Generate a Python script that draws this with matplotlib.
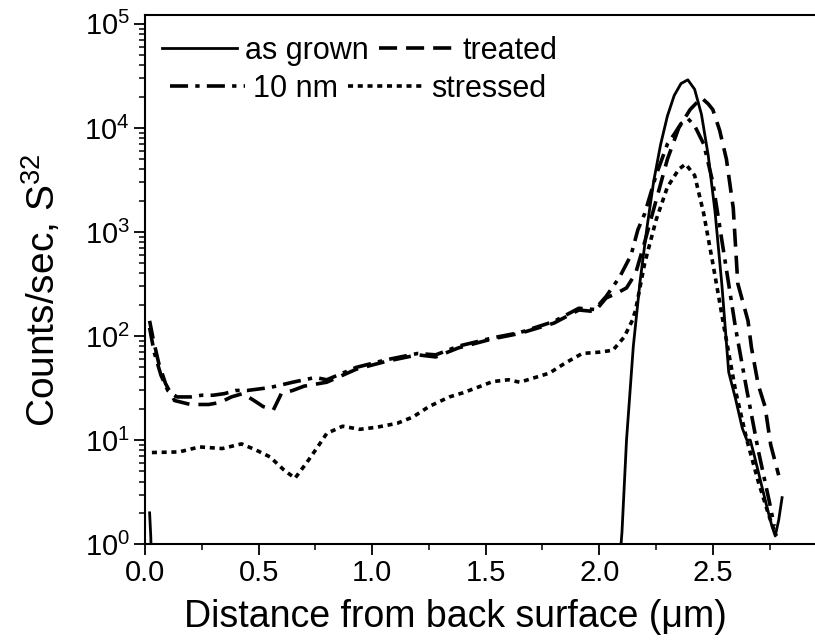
import numpy as np
import matplotlib
matplotlib.use("Agg")
import matplotlib.pyplot as plt
from matplotlib.ticker import LogLocator, MultipleLocator, NullFormatter, FormatStrFormatter
from matplotlib.lines import Line2D

plt.rcParams['font.family'] = ['Liberation Sans', 'DejaVu Sans']
plt.rcParams['mathtext.fontset'] = 'custom'
plt.rcParams['mathtext.rm'] = 'Liberation Sans'
plt.rcParams['mathtext.it'] = 'Liberation Sans:italic'

# as grown (solid): a tiny spike at the surface and the main peak
grown_x0 = [0.020, 0.025, 0.030]
grown_y0 = [2.0, 1.2, 0.5]
grown_x = [2.085, 2.10, 2.12, 2.15, 2.18, 2.21, 2.24, 2.27, 2.30, 2.33, 2.36, 2.39,
           2.42, 2.45, 2.48, 2.51, 2.54, 2.57, 2.60, 2.63, 2.65, 2.665, 2.68, 2.70,
           2.72, 2.74, 2.76, 2.775, 2.79, 2.805]
grown_y = [0.5, 1.3, 10, 80, 340, 1100, 3100, 6900, 13000, 20500, 26700, 29000,
           23500, 13500, 5400, 1550, 310, 45, 25, 13, 10, 10, 7.5, 5.0,
           3.3, 2.2, 1.5, 1.2, 1.7, 2.8]

# treated (dashed)
treat_x = [0.02, 0.035, 0.06, 0.09, 0.13, 0.20, 0.28, 0.33, 0.38, 0.43, 0.48, 0.52, 0.565,
           0.60, 0.65, 0.70, 0.80, 0.93, 1.06, 1.20, 1.28, 1.38, 1.53, 1.65, 1.80, 1.91,
           1.98, 2.03, 2.08, 2.12, 2.16, 2.20, 2.25, 2.30, 2.35, 2.40, 2.45, 2.48, 2.50,
           2.53, 2.56, 2.59, 2.61, 2.655, 2.67, 2.70, 2.73, 2.755, 2.79]
treat_y = [140, 95, 55, 35, 24, 22, 22, 23, 26, 28, 24, 21, 19.5,
           28, 30, 33, 36, 48, 57, 66, 63, 77, 94, 106, 133, 178,
           172, 232, 260, 290, 400, 800, 2000, 5000, 10000, 15000, 19500, 17000, 15000,
           9500, 5000, 1700, 320, 140, 78, 34, 21, 9, 4.6]

# 10 nm (dash-dot)
nm10_x = [0.02, 0.04, 0.07, 0.10, 0.14, 0.20, 0.25, 0.30, 0.35, 0.40, 0.45, 0.55, 0.65,
          0.75, 0.80, 0.93, 1.06, 1.20, 1.28, 1.38, 1.53, 1.65, 1.80, 1.91, 1.98, 2.03,
          2.09, 2.14, 2.17, 2.20, 2.25, 2.30, 2.33, 2.36, 2.39, 2.42, 2.46, 2.50, 2.55,
          2.60, 2.65, 2.70, 2.75, 2.77]
nm10_y = [120, 70, 42, 30, 26, 26, 27, 27, 28, 30, 30, 32, 36,
          40, 38, 50, 59, 68, 66, 80, 96, 108, 138, 185, 180, 240,
          370, 600, 1050, 1500, 3500, 7000, 8700, 11000, 12300, 10500, 7000, 3000, 600,
          120, 30, 8, 2.5, 1.5]

# stressed (short dashes)
str_x = [0.03, 0.15, 0.24, 0.34, 0.425, 0.49, 0.55, 0.61, 0.66, 0.71, 0.76, 0.80,
         0.87, 0.945, 1.02, 1.11, 1.18, 1.25, 1.34, 1.40, 1.47, 1.53, 1.60, 1.65,
         1.78, 1.85, 1.925, 2.00, 2.06, 2.11, 2.146, 2.16, 2.20, 2.25, 2.30, 2.35,
         2.38, 2.42, 2.46, 2.50, 2.55, 2.60, 2.65, 2.70, 2.75, 2.78]
str_y = [7.6, 7.7, 8.6, 8.3, 9.2, 8.0, 6.9, 5.2, 4.3, 6.0, 8.6, 11.6,
         13.6, 12.7, 13.3, 14.5, 16.7, 21, 26, 28.5, 32.5, 36.5, 38, 36,
         44, 55, 68, 70, 73, 98, 142, 178, 500, 1300, 2700, 4000,
         4500, 3500, 1500, 500, 120, 30, 10, 4, 1.8, 1.2]

styles = {
    'as grown': dict(ls='-', lw=2.0),
    'treated': dict(ls=(0, (5, 2.5)), lw=2.6),
    '10 nm': dict(ls=(0, (5, 2, 1.2, 2)), lw=2.6),
    'stressed': dict(ls=(0, (1.4, 1.3)), lw=2.6),
}

fig = plt.figure(figsize=(8.15, 6.44), dpi=100)
ax = fig.add_axes([0.178, 0.155, 0.822, 0.822])

ax.plot(grown_x0, grown_y0, color='black', **styles['as grown'])
ax.plot(grown_x, grown_y, color='black', **styles['as grown'])
ax.plot(nm10_x, nm10_y, color='black', **styles['10 nm'])
ax.plot(treat_x, treat_y, color='black', **styles['treated'])
ax.plot(str_x, str_y, color='black', **styles['stressed'])

ax.set_yscale('log')
ax.set_ylim(1, 10 ** 5.087)
ax.set_xlim(0, 2.95)
ax.xaxis.set_major_locator(MultipleLocator(0.5))
ax.xaxis.set_minor_locator(MultipleLocator(0.25))
ax.xaxis.set_major_formatter(FormatStrFormatter('%.1f'))
ax.yaxis.set_major_locator(LogLocator(base=10, numticks=10))
ax.yaxis.set_minor_locator(LogLocator(base=10, subs=np.arange(2, 10), numticks=20))
ax.yaxis.set_minor_formatter(NullFormatter())

ax.spines['right'].set_visible(False)
for s in ['left', 'bottom', 'top']:
    ax.spines[s].set_linewidth(1.5)
ax.tick_params(which='major', direction='out', length=8, width=1.3, labelsize=21,
               top=False, right=False, pad=3)
ax.tick_params(which='minor', direction='out', length=4, width=1.1, top=False, right=False)

ax.set_xlabel('Distance from back surface (\u03bcm)', fontsize=27)
ax.xaxis.set_label_coords(0.463, -0.104)
ax.set_ylabel('Counts/sec, S$^{32}$', fontsize=28)
ax.yaxis.set_label_coords(-0.122, 0.48)

# legend: two rows, laid out like the original (rows are not column-aligned)
def row_legend(labels, x_px, y_px, colsp):
    handles = [Line2D([], [], color='black', **styles[l]) for l in labels]
    return ax.legend(handles, labels, loc='center left', ncol=2, frameon=False,
                     fontsize=22, handlelength=2.45, handletextpad=0.27,
                     columnspacing=colsp, borderpad=0, borderaxespad=0,
                     bbox_to_anchor=(x_px / 815, 1 - y_px / 644),
                     bbox_transform=fig.transFigure)

leg1 = row_legend(['as grown', 'treated'], 162, 51, 0.33)
ax.add_artist(leg1)
row_legend(['10 nm', 'stressed'], 170, 89, 0.33)

fig.savefig('out.png', dpi=100)
